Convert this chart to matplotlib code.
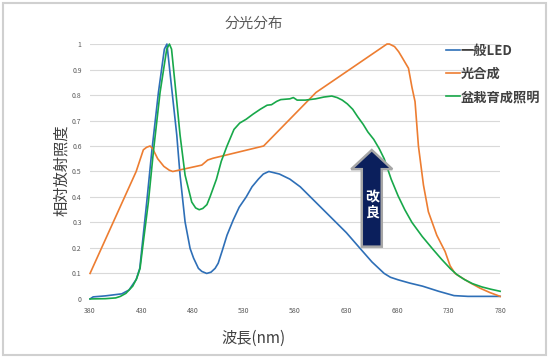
import matplotlib.pyplot as plt
from matplotlib.patches import FancyArrow, Rectangle

plt.rcParams['font.family'] = ['Noto Sans CJK JP', 'DejaVu Sans']

# 一般LED
led_wl = [380, 383, 395, 411, 418, 425, 428.5, 435.3, 440.2, 446.7, 452.5, 455, 459, 464.6,
          467.8, 472.7, 477.6, 481, 485.7, 489, 493.8, 498, 502, 505, 509, 513.6, 519.7,
          525.5, 532.3, 538, 544.2, 549, 554.4, 564.7, 574.9, 585, 600, 615, 630, 643, 655,
          666.9, 673, 680.5, 692, 704.4, 720, 735, 748.6, 780]
led_val = [0, 0.008, 0.012, 0.02, 0.035, 0.076, 0.12, 0.38, 0.578, 0.81, 0.98, 1.0, 0.85, 0.643,
           0.486, 0.302, 0.198, 0.16, 0.12, 0.108, 0.1, 0.105, 0.12, 0.14, 0.19, 0.25, 0.31,
           0.36, 0.4, 0.44, 0.47, 0.49, 0.5, 0.49, 0.47, 0.44, 0.38, 0.32, 0.26, 0.2, 0.145,
           0.1, 0.085, 0.075, 0.062, 0.05, 0.03, 0.013, 0.01, 0.01]

# 光合成
photo_wl = [380, 425, 432, 435.2, 438.6, 441, 446, 452, 457.3, 460.7, 489, 494.8, 500, 549.3,
            600.4, 669.6, 672, 677, 681, 684, 690.6, 694, 697, 700.3, 705.2, 710, 718.2,
            726.3, 731.2, 736, 741, 750, 760.5, 770, 780]
photo_val = [0.1, 0.5, 0.585, 0.595, 0.6, 0.59, 0.55, 0.52, 0.505, 0.5, 0.525, 0.545, 0.552, 0.6,
             0.81, 1.0, 1.0, 0.99, 0.97, 0.95, 0.905, 0.83, 0.774, 0.6, 0.447, 0.342, 0.25,
             0.186, 0.13, 0.1, 0.087, 0.065, 0.042, 0.025, 0.01]

# 盆栽育成照明
bonsai_wl = [380, 395, 405, 409.6, 415, 421.6, 425.5, 428.8, 432.5, 436.9, 441.8, 448.3, 454.8,
             457.4, 459.5, 463, 467.8, 472.7, 479.2, 483, 486.5, 490, 494, 497, 503.3, 508,
             513.6, 520.4, 526, 532.3, 539, 546, 552.7, 557, 562, 566, 574.9, 578.3, 582, 590,
             600, 608, 615.8, 621, 626, 631, 636.2, 641, 646.4, 651, 656.7, 662, 666.9, 673.7,
             680.5, 687, 694, 704, 714.6, 723, 731.6, 738, 745.2, 753, 762.3, 771, 780]
bonsai_val = [0, 0.001, 0.004, 0.01, 0.022, 0.05, 0.08, 0.12, 0.24, 0.38, 0.578, 0.81, 0.98,
              1.0, 0.98, 0.84, 0.643, 0.486, 0.38, 0.357, 0.35, 0.355, 0.37, 0.4, 0.47, 0.54,
              0.6, 0.665, 0.69, 0.705, 0.725, 0.744, 0.76, 0.762, 0.775, 0.782, 0.785, 0.79, 0.78, 0.78,
              0.785, 0.792, 0.796, 0.79, 0.78, 0.765, 0.744, 0.715, 0.685, 0.655, 0.626, 0.59, 0.55, 0.47,
              0.404, 0.35, 0.3, 0.245, 0.194, 0.155, 0.118, 0.095, 0.076, 0.06, 0.047, 0.038, 0.03]

x_ticks = [380, 430, 480, 530, 580, 630, 680, 730, 780]
y_ticks = [0, 0.1, 0.2, 0.3, 0.4, 0.5, 0.6, 0.7, 0.8, 0.9, 1]
y_labels = ['0', '0.1', '0.2', '0.3', '0.4', '0.5', '0.6', '0.7', '0.8', '0.9', '1']

fig = plt.figure(figsize=(5.49, 3.58), dpi=100)
fig.patches.append(Rectangle((0.006, 0.008), 0.988, 0.984, transform=fig.transFigure,
                             fill=False, edgecolor='#d0d0d0', linewidth=1.5))
ax = fig.add_axes([0.164, 0.165, 0.747, 0.712])

ax.plot(led_wl, led_val, color='#2e6fb7', lw=1.2, label='一般LED', clip_on=False, zorder=3)
ax.plot(photo_wl, photo_val, color='#ed7d31', lw=1.2, label='光合成', clip_on=False, zorder=3)
ax.plot(bonsai_wl, bonsai_val, color='#18a84a', lw=1.2, label='盆栽育成照明', clip_on=False, zorder=3)

ax.set_xlim(380, 780)
ax.set_ylim(0, 1)
ax.set_xticks(x_ticks)
ax.set_xticklabels([str(t) for t in x_ticks], fontsize=5, color='#595959')
ax.set_yticks(y_ticks)
ax.set_yticklabels(y_labels, fontsize=5, color='#595959')
ax.tick_params(length=0, pad=6)
ax.grid(axis='y', color='#d9d9d9', lw=0.8)
ax.set_axisbelow(True)
for s in ax.spines.values():
    s.set_visible(False)

# 改良 arrow
arr = FancyArrow(654.8, 0.205, 0, 0.379, width=19.5, head_width=40, head_length=0.075,
                 length_includes_head=True, facecolor='#0b1f5c', edgecolor='#a6a6a6',
                 linewidth=1.8, zorder=5)
ax.add_patch(arr)
ax.text(654.8, 0.37, '改\n良', color='white', fontsize=10, fontweight='bold',
        ha='center', va='center', linespacing=1.1, zorder=6)

fig.text(0.463, 0.932, '分光分布', ha='center', va='center', fontsize=10.5, color='#595959')
fig.text(0.113, 0.525, '相対放射照度', ha='center', va='center', rotation=90,
         fontsize=11, color='#404040')
fig.text(0.461, 0.056, '波長(nm)', ha='center', va='center', fontsize=11, color='#404040')

leg = ax.legend(loc='upper left', bbox_to_anchor=(0.79, 0.91), bbox_transform=fig.transFigure,
                frameon=False, handlelength=1.1, handletextpad=0.05, labelspacing=0.68,
                prop={'size': 9.5, 'weight': 'bold'})
for t in leg.get_texts():
    t.set_color('#404040')

fig.savefig('out.png', dpi=100)
